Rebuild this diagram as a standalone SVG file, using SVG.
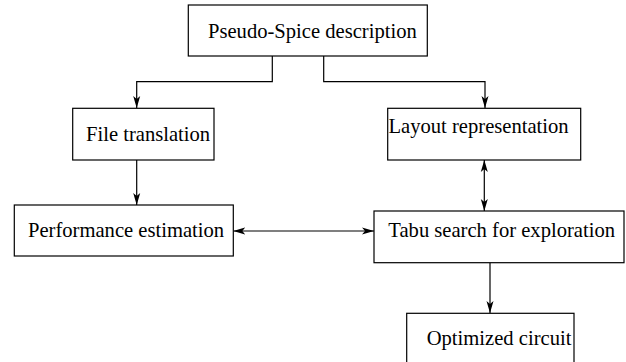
<svg xmlns="http://www.w3.org/2000/svg" width="626" height="362" viewBox="0 0 626 362">
<defs>
<style>
.box{fill:#fff;stroke:#000;stroke-width:1.2}
.lbl{font-family:"Liberation Serif","Times New Roman",serif;font-size:20.6px;fill:#000}
.con{fill:none;stroke:#000;stroke-width:1.2}
</style>
<marker id="ah" viewBox="0 0 12 8" refX="12" refY="4" markerWidth="12" markerHeight="8" markerUnits="userSpaceOnUse" orient="auto-start-reverse">
<path d="M0,0.5 L12,4 L0,7.5 L3,4 Z" fill="#000"/>
</marker>
</defs>
<rect width="626" height="362" fill="#fff"/>
<g id="connectors">
<path class="con" d="M272.3,56 V81.7 H136.7 V108" marker-end="url(#ah)"/>
<path class="con" d="M323.7,56 V81.7 H485 V108" marker-end="url(#ah)"/>
<path class="con" d="M136.7,160 V205" marker-end="url(#ah)"/>
<path class="con" d="M233.3,231 H374" marker-start="url(#ah)" marker-end="url(#ah)"/>
<path class="con" d="M484.3,160 V211" marker-start="url(#ah)" marker-end="url(#ah)"/>
<path class="con" d="M490,262.7 V313" marker-end="url(#ah)"/>
</g>
<g id="pseudo-spice">
<rect class="box" x="188.3" y="5" width="239" height="51"/>
<text class="lbl" x="208" y="38">Pseudo-Spice description</text>
</g>
<g id="file-translation">
<rect class="box" x="72.7" y="108.3" width="141.3" height="51.7"/>
<text class="lbl" x="86" y="140.7">File translation</text>
</g>
<g id="layout-representation">
<rect class="box" x="387.7" y="108.3" width="193" height="51.7"/>
<text class="lbl" x="388.5" y="133.3">Layout representation</text>
</g>
<g id="performance-estimation">
<rect class="box" x="14.3" y="205" width="219" height="51"/>
<text class="lbl" x="28" y="236.7">Performance estimation</text>
</g>
<g id="tabu-search">
<rect class="box" x="374" y="211" width="250" height="51.7"/>
<text class="lbl" x="388.3" y="236.7">Tabu search for exploration</text>
</g>
<g id="optimized-circuit">
<rect class="box" x="406.7" y="313.3" width="167.3" height="60"/>
<text class="lbl" x="426.7" y="345">Optimized circuit</text>
</g>
</svg>
